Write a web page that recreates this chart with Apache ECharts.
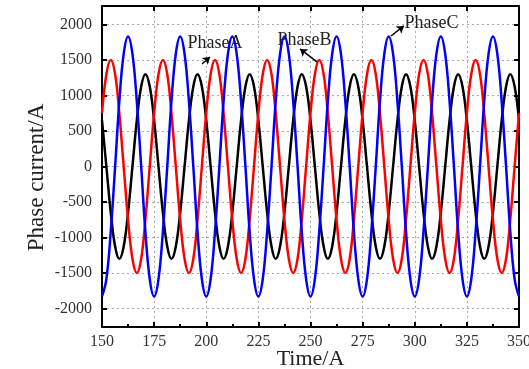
<!DOCTYPE html>
<html>
<head>
<meta charset="utf-8">
<script src="https://cdn.jsdelivr.net/npm/echarts@6/dist/echarts.min.js"></script>
<style>html,body{margin:0;padding:0;background:#fff}#c{width:529px;height:369px}</style>
</head>
<body>
<div id="c"></div>
<script>
const time = [
150,152.1,154.2,156.3,158.3,160.4,162.5,164.6,166.7,168.8,170.8,172.9,
175,177.1,179.2,181.3,183.3,185.4,187.5,189.6,191.7,193.8,195.8,197.9,
200,202.1,204.2,206.3,208.3,210.4,212.5,214.6,216.7,218.8,220.8,222.9,
225,227.1,229.2,231.3,233.3,235.4,237.5,239.6,241.7,243.8,245.8,247.9,
250,252.1,254.2,256.3,258.3,260.4,262.5,264.6,266.7,268.8,270.8,272.9,
275,277.1,279.2,281.3,283.3,285.4,287.5,289.6,291.7,293.8,295.8,297.9,
300,302.1,304.2,306.3,308.3,310.4,312.5,314.6,316.7,318.8,320.8,322.9,
325,327.1,329.2,331.3,333.3,335.4,337.5,339.6,341.7,343.8,345.8,347.9,
350];
const phaseA = [
650,0,-650,-1126,-1300,-1126,-650,0,650,1126,1300,1126,
650,0,-650,-1126,-1300,-1126,-650,0,650,1126,1300,1126,
650,0,-650,-1126,-1300,-1126,-650,0,650,1126,1300,1126,
650,0,-650,-1126,-1300,-1126,-650,0,650,1126,1300,1126,
650,0,-650,-1126,-1300,-1126,-650,0,650,1126,1300,1126,
650,0,-650,-1126,-1300,-1126,-650,0,650,1126,1300,1126,
650,0,-650,-1126,-1300,-1126,-650,0,650,1126,1300,1126,
650,0,-650,-1126,-1300,-1126,-650,0,650,1126,1300,1126,
650];
const phaseB = [
750,1299,1500,1299,750,0,-750,-1299,-1500,-1299,-750,0,
750,1299,1500,1299,750,0,-750,-1299,-1500,-1299,-750,0,
750,1299,1500,1299,750,0,-750,-1299,-1500,-1299,-750,0,
750,1299,1500,1299,750,0,-750,-1299,-1500,-1299,-750,0,
750,1299,1500,1299,750,0,-750,-1299,-1500,-1299,-750,0,
750,1299,1500,1299,750,0,-750,-1299,-1500,-1299,-750,0,
750,1299,1500,1299,750,0,-750,-1299,-1500,-1299,-750,0,
750,1299,1500,1299,750,0,-750,-1299,-1500,-1299,-750,0,
750];
const phaseC = [
-1830,-1585,-915,0,915,1585,1830,1585,915,0,-915,-1585,
-1830,-1585,-915,0,915,1585,1830,1585,915,0,-915,-1585,
-1830,-1585,-915,0,915,1585,1830,1585,915,0,-915,-1585,
-1830,-1585,-915,0,915,1585,1830,1585,915,0,-915,-1585,
-1830,-1585,-915,0,915,1585,1830,1585,915,0,-915,-1585,
-1830,-1585,-915,0,915,1585,1830,1585,915,0,-915,-1585,
-1830,-1585,-915,0,915,1585,1830,1585,915,0,-915,-1585,
-1830,-1585,-915,0,915,1585,1830,1585,915,0,-915,-1585,
-1830];
const yTicks = [-2000,-1500,-1000,-500,0,500,1000,1500,2000];
const labels = [
  {name:'PhaseA', at:[190.8,1732], from:[198.0,1444], to:[201.8,1542]},
  {name:'PhaseB', at:[233.9,1782], from:[253.1,1472], to:[245.0,1655]},
  {name:'PhaseC', at:[294.8,2014], from:[288.6,1838], to:[294.8,1979]}
];

const serif = 'Liberation Serif';
const pairs = v => time.map((t,i)=>[t,v[i]]);
const chart = echarts.init(document.getElementById('c'));
const axisLine = {show:true, onZero:false, lineStyle:{color:'#000', width:2}};
const grid = {show:true, lineStyle:{color:'#aaa', width:1, type:[2,3]}};
chart.setOption({
  animation:false,
  grid:{left:102, right:10, top:6, bottom:42, outerBoundsMode:'none', containLabel:false},
  xAxis:[{
    type:'value', min:150, max:350, interval:25, position:'bottom',
    name:'Time/A', nameLocation:'middle', nameGap:21, nameMoveOverlap:false,
    nameTextStyle:{fontFamily:serif, fontSize:22, color:'#222'},
    axisLine:axisLine,
    axisTick:{inside:true, length:5, lineStyle:{color:'#000', width:2}},
    minorTick:{show:true, splitNumber:2, length:3, lineStyle:{color:'#000', width:2}},
    axisLabel:{fontFamily:serif, fontSize:16, color:'#333', margin:7, formatter:v=>String(v)},
    splitLine:grid
  },{
    type:'value', min:150, max:350, interval:25, position:'top',
    axisLine:axisLine,
    axisTick:{inside:true, length:5, lineStyle:{color:'#000', width:2}},
    axisLabel:{show:false}, splitLine:{show:false}
  }],
  yAxis:[{
    type:'value', min:-2260, max:2260, position:'left',
    name:'Phase current/A', nameLocation:'middle', nameGap:54, nameRotate:90, nameMoveOverlap:false,
    nameTextStyle:{fontFamily:serif, fontSize:23, color:'#222', padding:[0,22,0,0]},
    axisLine:axisLine,
    axisTick:{inside:true, length:5, customValues:yTicks, lineStyle:{color:'#000', width:2}},
    axisLabel:{fontFamily:serif, fontSize:16, color:'#333', margin:10, customValues:yTicks, formatter:v=>String(v)},
    splitLine:grid
  },{
    type:'value', min:-2260, max:2260, position:'right',
    axisLine:axisLine,
    axisTick:{inside:true, length:5, customValues:yTicks, lineStyle:{color:'#000', width:2}},
    axisLabel:{show:false, customValues:yTicks}, splitLine:{show:false}
  }],
  series:[
    {name:'PhaseA', type:'line', data:pairs(phaseA), smooth:0.4, showSymbol:false,
     lineStyle:{color:'#000', width:2.5}},
    {name:'PhaseB', type:'line', data:pairs(phaseB), smooth:0.4, showSymbol:false,
     lineStyle:{color:'#f00', width:2.5}},
    {name:'PhaseC', type:'line', data:pairs(phaseC), smooth:0.4, showSymbol:false,
     lineStyle:{color:'#00f', width:2.5},
     markLine:{silent:true, symbol:['none','arrow'], symbolSize:7,
       lineStyle:{color:'#000', width:1.5, type:'solid'}, label:{show:false},
       data: labels.map(l=>[{coord:l.from},{coord:l.to}])},
     markPoint:{silent:true, symbol:'rect', symbolSize:1, itemStyle:{color:'rgba(0,0,0,0)'},
       label:{show:true, position:'right', distance:0, formatter:'{b}',
         fontFamily:serif, fontSize:18, color:'#222'},
       data: labels.map(l=>({name:l.name, coord:l.at}))}
    }
  ]
});
</script>
</body>
</html>
